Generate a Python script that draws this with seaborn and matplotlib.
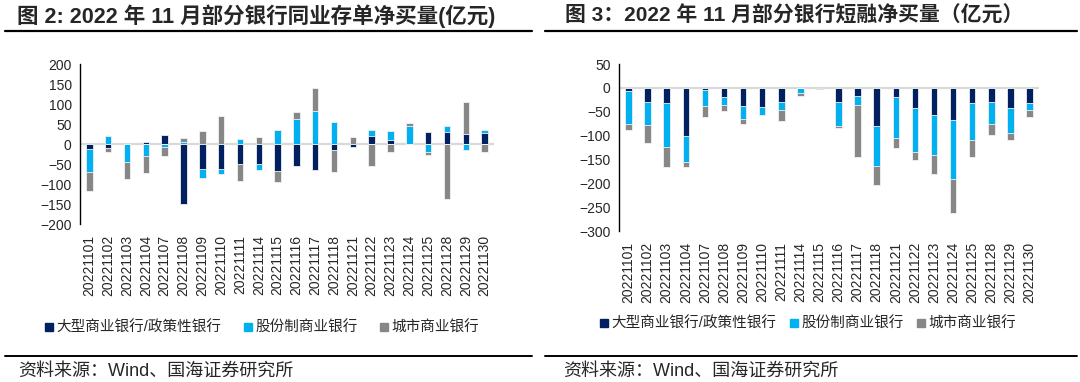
import numpy as np
import pandas as pd
import matplotlib
matplotlib.use("Agg")
import matplotlib.pyplot as plt
from matplotlib.lines import Line2D
import seaborn as sns

sns.set_style("white")
plt.rcParams['font.family'] = ['Liberation Sans', 'Noto Sans CJK SC', 'DejaVu Sans']

# Data
dates = ['20221101', '20221102', '20221103', '20221104', '20221107', '20221108',
         '20221109', '20221110', '20221111', '20221114', '20221115', '20221116',
         '20221117', '20221118', '20221121', '20221122', '20221123', '20221124',
         '20221125', '20221128', '20221129', '20221130']
series_names = ['大型商业银行/政策性银行', '股份制商业银行', '城市商业银行']
colors = ['#002060', '#00B0F0', '#878787']

# 同业存单净买量 (亿元)
cd_big = [-12, -11, 0, 5, 22, -151, -63, -63, -50, -50, -67, -54,
          -65, -15, -7, 21, 9, 0, 30, 30, 24, 28]
cd_joint = [-57, 20, -46, -30, -8, 6, -23, -13, 12, -15, 35, 62,
            82, 55, 0, 13, 23, 46, -19, 16, -16, 8]
cd_city = [-48, -8, -42, -43, -22, 10, 32, 71, -43, 18, -27, 17,
           57, -55, 17, -54, -21, 7, -8, -137, 82, -21]

# 短融净买量 (亿元)
cp_big = [-7, -29, -32, -101, -4, -20, -39, -40, -30, 0, -2, -30,
          -18, -80, -20, -43, -56, -68, -31, -30, -43, -31]
cp_joint = [-68, -49, -92, -55, -34, -16, -26, -16, -16, -10, 0, -50,
            -18, -83, -85, -91, -85, -124, -78, -45, -52, -16]
cp_city = [-14, -37, -41, -10, -24, -12, -10, 0, -24, -8, 0, -5,
           -108, -41, -20, -17, -39, -70, -36, -24, -14, -14]

W, H = 1080, 382
fig = plt.figure(figsize=(W / 100, H / 100), dpi=100)


def px_axes(x0, y0, x1, y1):
    return fig.add_axes([x0 / W, 1 - y1 / H, (x1 - x0) / W, (y1 - y0) / H])


def stacked(ax, layers, ylim, yticks):
    arr = np.array(layers, dtype=float)
    pos = np.cumsum(np.clip(arr, 0, None), axis=0)
    neg = np.cumsum(np.clip(arr, None, 0), axis=0)
    ax.axhline(0, color='#D9D9D9', lw=1.6, zorder=0)
    # paint outermost layer first, inner layers on top
    for i in range(len(layers) - 1, -1, -1):
        for cum in (pos[i], neg[i]):
            df = pd.DataFrame({'date': dates, 'value': cum})
            sns.barplot(data=df, x='date', y='value', color=colors[i], ax=ax,
                        width=0.34, edgecolor='#F2F2F2', linewidth=0.6,
                        saturation=1, errorbar=None, zorder=2)
    ax.set_xlim(-0.5, len(dates) - 0.5)
    ax.set_ylim(*ylim)
    ax.set_yticks(yticks)
    ax.set_xlabel('')
    ax.set_ylabel('')
    for s in ('top', 'right', 'bottom'):
        ax.spines[s].set_visible(False)
    ax.spines['left'].set_color('black')
    ax.spines['left'].set_linewidth(1.0)
    ax.tick_params(axis='y', direction='in', length=3, width=1, labelsize=10, pad=6)
    ax.tick_params(axis='x', length=0, labelsize=10, pad=8, labelrotation=90)


ax1 = px_axes(80, 64, 494, 224)
stacked(ax1, [cd_big, cd_joint, cd_city], (-200, 200), np.arange(-200, 201, 50))
ax2 = px_axes(619, 64, 1039, 231)
stacked(ax2, [cp_big, cp_joint, cp_city], (-300, 50), np.arange(-300, 51, 50))

# titles and rules
fig.text(17 / W, 1 - 16 / H, '图 2: 2022 年 11 月部分银行同业存单净买量(亿元)',
         fontsize=15.5, fontweight='bold', va='center', ha='left')
fig.text(565 / W, 1 - 16 / H, '图 3：2022 年 11 月部分银行短融净买量（亿元）',
         fontsize=15, fontweight='bold', va='center', ha='left')
for x0, x1 in ((5, 532), (545, 1077)):
    fig.add_artist(Line2D([x0 / W, x1 / W], [1 - 31 / H] * 2, color='black', lw=1.6))
    fig.add_artist(Line2D([x0 / W, x1 / W], [1 - 356 / H] * 2, color='black', lw=1.4))

# legends
handles = [Line2D([], [], marker='s', linestyle='none', markersize=6,
                  markerfacecolor=c, markeredgecolor=c) for c in colors]
fig.legend(handles, series_names, loc='center', bbox_to_anchor=(262 / W, 1 - 328 / H),
           ncol=3, frameon=False, fontsize=10.5, handlelength=0.6, handletextpad=0.2,
           columnspacing=1.5)
fig.legend(handles, series_names, loc='center', bbox_to_anchor=(808 / W, 1 - 324 / H),
           ncol=3, frameon=False, fontsize=10.5, handlelength=0.6, handletextpad=0.2,
           columnspacing=0.9)

# source
for x in (18, 563):
    fig.text(x / W, 1 - 371 / H, '资料来源：Wind、国海证券研究所', fontsize=13,
             va='center', ha='left')

fig.savefig('out.png', dpi=100)
